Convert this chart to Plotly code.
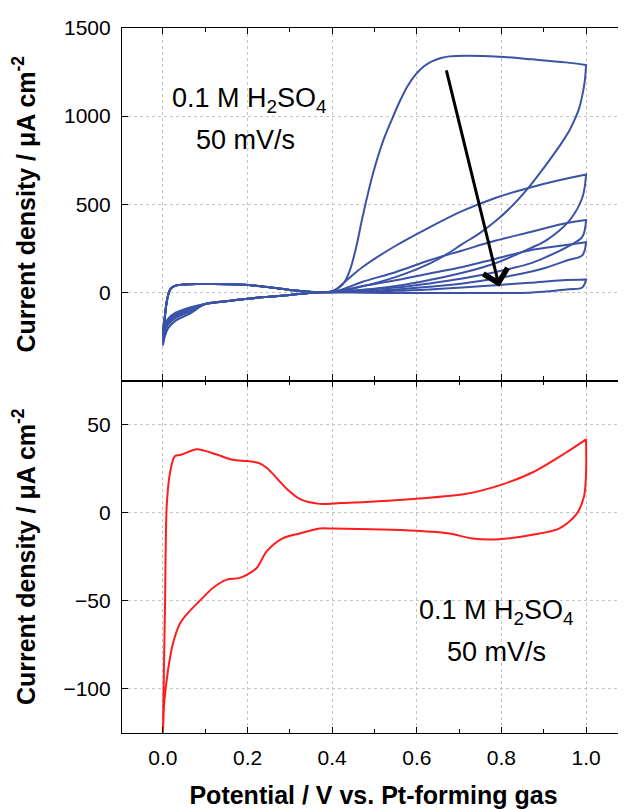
import plotly.graph_objects as go
from plotly.subplots import make_subplots

# ---- top panel: successive CV cycles (blue), potential in V, current in uA/cm2 ----
# double-layer region, shared by all cycles
DL_UP_V = [0.0, 0.004, 0.01, 0.018, 0.03, 0.05, 0.08, 0.12, 0.18, 0.22, 0.26, 0.3, 0.345, 0.38]
DL_UP_J = [None, -150, -40, 20, 38, 44, 47, 47, 44, 38, 26, 14, 3, 1]
DL_DOWN_V = [0.38, 0.345, 0.3, 0.25, 0.2, 0.15, 0.1]
DL_DOWN_J = [1, -4, -15, -25, -36, -50, -66]
TAIL_V = [0.064, 0.03, 0.012, 0.004, 0.0]
TAIL_J = [
    [-120, -160, -205, -255, -300],
    [-110, -145, -185, -230, -270],
    [-100, -135, -170, -210, -245],
    [-92, -125, -160, -195, -225],
    [-85, -115, -150, -180, -205],
]

# first cycle, big oxidation wave
C1_UP_V = [0.4, 0.425, 0.441, 0.457, 0.472, 0.496, 0.519, 0.54, 0.559, 0.578, 0.598, 0.617,
           0.637, 0.657, 0.677, 0.716, 0.795, 0.873, 0.952, 1.0]
C1_UP_J = [8, 45, 120, 260, 430, 670, 850, 975, 1080, 1170, 1238, 1283,
           1312, 1330, 1339, 1343, 1337, 1322, 1305, 1290]
C1_DOWN_V = [1.0, 0.997, 0.99, 0.983, 0.972, 0.96, 0.94, 0.92, 0.895, 0.866, 0.827, 0.787,
             0.748, 0.708, 0.67, 0.63, 0.59, 0.551, 0.51, 0.472, 0.44, 0.4]
C1_DOWN_J = [1290, 1200, 1105, 1040, 975, 915, 840, 772, 690, 600, 495, 406,
             335, 275, 215, 163, 122, 88, 58, 34, 16, 3]

# later cycles
OX_UP_V = [0.4, 0.43, 0.472, 0.551, 0.63, 0.708, 0.787, 0.866, 0.944, 1.0]
OX_DOWN_V = [1.0, 0.991, 0.96, 0.905, 0.866, 0.787, 0.708, 0.63, 0.551, 0.472, 0.4]
OX_UP_J = [
    [2, 60, 144, 266, 369, 462, 537, 594, 640, 669],
    [2, 22, 60, 116, 182, 238, 294, 341, 388, 410],
    [2, 15, 36, 69, 107, 144, 191, 238, 266, 285],
    [1, 3, 5, 9, 17, 28, 41, 54, 69, 73],
]
OX_DOWN_J = [
    [669, 537, 406, 294, 248, 167, 111, 70, 36, 14, 2],
    [410, 315, 264, 200, 163, 116, 79, 51, 28, 15, 2],
    [285, 210, 185, 140, 116, 79, 51, 32, 17, 8, 1],
    [73, 28, 18, 5, -2, -4, -4, -4, -4, -2, 0],
]

# ---- bottom panel: reference CV (red) ----
RED_UP_V = [0.0, 0.002, 0.005, 0.009, 0.017, 0.028, 0.045, 0.08, 0.127, 0.165, 0.2, 0.225,
            0.245, 0.26, 0.275, 0.295, 0.323, 0.37, 0.42, 0.48, 0.6, 0.717, 0.795, 0.873, 0.952, 1.0]
RED_UP_J = [-125, -95, -52, 4, 23, 32, 33, 36, 33, 30, 29.3, 28.3,
            25.5, 22, 18, 13, 7.8, 5, 5.5, 6, 7.9, 10.7, 15.5, 22.8, 34, 41.6]
RED_DOWN_V = [1.0, 1.0, 0.995, 0.976, 0.936, 0.873, 0.795, 0.731, 0.677, 0.6, 0.4, 0.37, 0.323,
              0.283, 0.245, 0.221, 0.182, 0.151, 0.118, 0.087, 0.057, 0.04, 0.024, 0.012, 0.003, 0.0]
RED_DOWN_J = [41.6, 22.8, 9, -1.3, -9, -12.5, -15, -14.6, -11.8, -10.3, -9, -9, -11.8,
              -14.6, -22, -31.5, -37, -38, -42.7, -50, -57.4, -63, -74, -89.5, -108, -125]

BLUE = "#3a53a6"
RED = "#ff1c1c"
FONT = "Liberation Sans, Arial, sans-serif"


def cycle_loop(i, up_v, up_j, down_v, down_j):
    tail = TAIL_J[i]
    v = DL_UP_V + up_v + down_v + DL_DOWN_V + TAIL_V
    j = [tail[-1]] + DL_UP_J[1:] + up_j + down_j + DL_DOWN_J + tail
    return v, j


fig = make_subplots(rows=2, cols=1, shared_xaxes=True, vertical_spacing=0)

loops = [cycle_loop(0, C1_UP_V, C1_UP_J, C1_DOWN_V, C1_DOWN_J)]
for k in range(4):
    loops.append(cycle_loop(k + 1, OX_UP_V, OX_UP_J[k], OX_DOWN_V, OX_DOWN_J[k]))

for v, j in loops:
    fig.add_trace(go.Scatter(x=v, y=j, mode="lines",
                             line=dict(color=BLUE, width=2, shape="spline", smoothing=1),
                             showlegend=False), row=1, col=1)

fig.add_trace(go.Scatter(x=RED_UP_V + RED_DOWN_V, y=RED_UP_J + RED_DOWN_J, mode="lines",
                         line=dict(color=RED, width=2, shape="spline", smoothing=0.8),
                         showlegend=False), row=2, col=1)

axis_style = dict(showline=True, linecolor="black", linewidth=1.2, mirror="ticks",
                  ticks="inside", ticklen=6, tickcolor="black", tickwidth=1.2,
                  showgrid=True, gridcolor="#c4c4c4", griddash="dot", gridwidth=1,
                  zeroline=False, ticklabelstandoff=6,
                  tickfont=dict(family=FONT, size=21, color="black"))

fig.update_xaxes(axis_style, range=[-0.0967, 1.092], tick0=0, dtick=0.2, tickformat=".1f",
                 minor=dict(dtick=0.1, tick0=0, ticks="inside", ticklen=4,
                            tickcolor="black", showgrid=False))
fig.update_xaxes(showticklabels=False, row=1, col=1)
fig.update_xaxes(title=dict(text="<b>Potential / V vs. Pt-forming gas</b>", standoff=18,
                            font=dict(family=FONT, size=25, color="black")), row=2, col=1)

ytitle = dict(text="<b>Current density / \u03bcA cm<sup>-2</sup></b>", standoff=26,
              font=dict(family=FONT, size=25, color="black"))
fig.update_yaxes(axis_style, range=[-500, 1500], tickvals=[0, 500, 1000, 1500],
                 title=ytitle, row=1, col=1)
fig.update_yaxes(axis_style, range=[-125, 75], tickvals=[-100, -50, 0, 50],
                 title=ytitle, row=2, col=1)

label_font = dict(family=FONT, size=27, color="black")
notes = [
    ("x", "y", 0.205, 1090, "0.1 M H<sub>2</sub>SO<sub>4</sub>"),
    ("x", "y", 0.196, 865, "50 mV/s"),
    ("x2", "y2", 0.788, -56.5, "0.1 M H<sub>2</sub>SO<sub>4</sub>"),
    ("x2", "y2", 0.788, -79, "50 mV/s"),
]
for xr, yr, x, y, t in notes:
    fig.add_annotation(xref=xr, yref=yr, x=x, y=y, text=t, showarrow=False,
                       font=label_font, xanchor="center", yanchor="middle")

# arrow showing the decay of the oxidation current
fig.add_annotation(xref="x", yref="y", axref="x", ayref="y", x=0.795, y=32, ax=0.669, ay=1268,
                   text="", showarrow=True, arrowhead=4, arrowsize=1.6, arrowwidth=3,
                   arrowcolor="black", standoff=0)

# the page body adds 8 px on the left and top, so the margins absorb it
fig.update_layout(width=626, height=809, margin=dict(l=114, r=8, t=14, b=84),
                  plot_bgcolor="white", paper_bgcolor="white",
                  font=dict(family=FONT, color="black"))

fig.write_html("out.html")
